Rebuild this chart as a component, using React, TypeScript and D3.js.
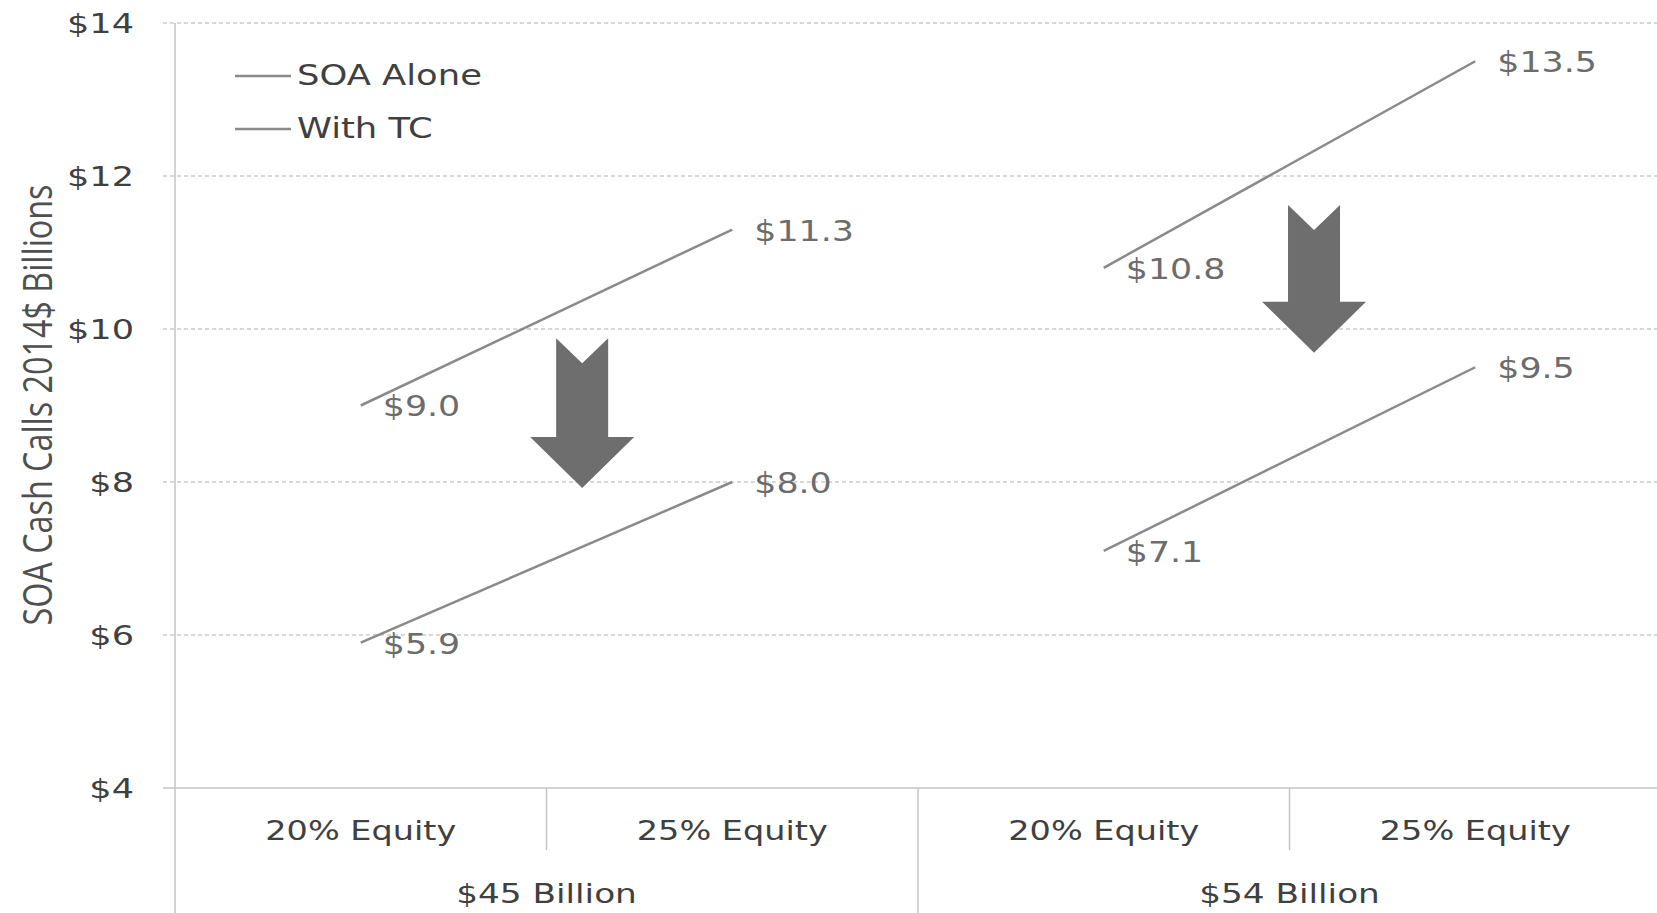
import React from "react";
import * as d3 from "d3";

const groups = ["$45 Billion", "$54 Billion"];
const subCats = ["20% Equity", "25% Equity"];
const categories = ["45-20", "45-25", "54-20", "54-25"];
const soaAlone = [9.0, 11.3, 10.8, 13.5];
const withTC = [5.9, 8.0, 7.1, 9.5];
const yTicks = [4, 6, 8, 10, 12, 14];
const seriesNames = ["SOA Alone", "With TC"];
// arrows: [category position (in category units), top value, tip value]
const arrows = [
  { pos: 1.096, top: 9.88, tip: 7.92 },
  { pos: 3.066, top: 11.62, tip: 9.69 },
];

const W = 1657;
const H = 913;
const FONT = "'DejaVu Sans', Verdana, sans-serif";

function SText({ x, y, sx = 1.2, size, anchor = "start", fill, children }: any) {
  return (
    <text
      transform={`translate(${x},${y}) scale(${sx},1)`}
      fontFamily={FONT}
      fontSize={size}
      textAnchor={anchor}
      dominantBaseline="central"
      fill={fill}
    >
      {children}
    </text>
  );
}

export default function App() {
  const left = 175;
  const right = 1661;
  const y = d3.scaleLinear().domain([4, 14]).range([788, 23]);
  const x = d3.scaleBand().domain(categories).range([left, right]).paddingInner(0).paddingOuter(0);
  const xi = d3.scaleLinear().domain([0, categories.length]).range([left, right]);
  const bw = x.bandwidth();
  const cx = (i: number) => (x(categories[i]) as number) + bw / 2;
  const line = d3.line<[number, number]>().x((d) => d[0]).y((d) => d[1]);

  const segs = (vals: number[]) =>
    groups.map((_, g) => [
      [cx(g * 2), y(vals[g * 2])] as [number, number],
      [cx(g * 2 + 1), y(vals[g * 2 + 1])] as [number, number],
    ]);

  const arrowPath = (a: { pos: number; top: number; tip: number }) => {
    const c = xi(a.pos);
    const t = y(a.top);
    const b = y(a.tip);
    const sh = 26; // half shaft
    const hh = 52; // half head
    const notch = 25;
    const headLen = 51;
    return `M${c - sh},${t} L${c},${t + notch} L${c + sh},${t} L${c + sh},${b - headLen} L${c + hh},${b - headLen} L${c},${b} L${c - hh},${b - headLen} L${c - sh},${b - headLen} Z`;
  };

  const grid = "#cccccc";
  const axisCol = "#c4c4c4";
  const textCol = "#404040";
  const labelCol = "#6c6c6c";
  const lineCol = "#8a8a8a";

  return (
    <svg
      width={W}
      height={H}
      style={{ position: "absolute", left: 0, top: 0, background: "#fff" }}
    >
      <rect x={0} y={0} width={W} height={H} fill="#fff" />
      {/* gridlines */}
      {yTicks.filter((t) => t > 4).map((t) => (
        <line key={t} x1={163} x2={W} y1={y(t)} y2={y(t)} stroke={grid} strokeWidth={1.5} strokeDasharray="4,3" />
      ))}
      {/* x axis line */}
      <line x1={163} x2={W} y1={y(4)} y2={y(4)} stroke={axisCol} strokeWidth={1.5} />
      {/* y axis line */}
      <line x1={left} x2={left} y1={y(14)} y2={H} stroke={axisCol} strokeWidth={1.5} />
      {/* inner category dividers */}
      {groups.map((_, g) => (
        <line key={"d" + g} x1={xi(g * 2 + 1)} x2={xi(g * 2 + 1)} y1={y(4)} y2={850} stroke={axisCol} strokeWidth={1.5} />
      ))}
      {/* group divider */}
      {groups.slice(1).map((_, g) => (
        <line key={"gd" + g} x1={xi((g + 1) * 2)} x2={xi((g + 1) * 2)} y1={y(4)} y2={H} stroke={axisCol} strokeWidth={1.5} />
      ))}
      {/* y tick labels */}
      {yTicks.map((t) => (
        <SText key={"t" + t} x={134} y={y(t) + 1} size={27} sx={1.3} anchor="end" fill={textCol}>
          {`$${t}`}
        </SText>
      ))}
      {/* y title */}
      <text
        transform={`translate(52,${405}) rotate(-90)`}
        fontFamily="'Open Sans', sans-serif"
        fontSize={40}
        textAnchor="middle"
        textLength={441}
        lengthAdjust="spacingAndGlyphs"
        fill="#505050"
      >
        SOA Cash Calls 2014$ Billions
      </text>
      {/* category labels */}
      {categories.map((c, i) => (
        <SText key={c} x={cx(i)} y={831} size={27} sx={1.24} anchor="middle" fill={textCol}>
          {subCats[i % 2]}
        </SText>
      ))}
      {groups.map((g, gi) => (
        <SText key={g} x={xi(gi * 2 + 1)} y={893} size={27} sx={1.27} anchor="middle" fill={textCol}>
          {g}
        </SText>
      ))}
      {/* series lines */}
      {[soaAlone, withTC].map((vals, si) =>
        segs(vals).map((s, gi) => (
          <path key={`l${si}-${gi}`} d={line(s) as string} fill="none" stroke={lineCol} strokeWidth={2.5} />
        ))
      )}
      {/* data labels */}
      {[soaAlone, withTC].map((vals, si) =>
        vals.map((v, i) => (
          <SText key={`v${si}-${i}`} x={cx(i) + 22} y={y(v) + 1} size={29} sx={1.2} fill={labelCol}>
            {`$${v.toFixed(1)}`}
          </SText>
        ))
      )}
      {/* arrows */}
      {arrows.map((a, i) => (
        <path key={"a" + i} d={arrowPath(a)} fill="#6e6e6e" />
      ))}
      {/* legend */}
      {seriesNames.map((n, i) => (
        <g key={n}>
          <line x1={235} x2={291} y1={76 + i * 53} y2={76 + i * 53} stroke={lineCol} strokeWidth={2.5} />
          <SText x={297} y={75 + i * 53} size={29} sx={1.22} fill={textCol}>
            {n}
          </SText>
        </g>
      ))}
    </svg>
  );
}
